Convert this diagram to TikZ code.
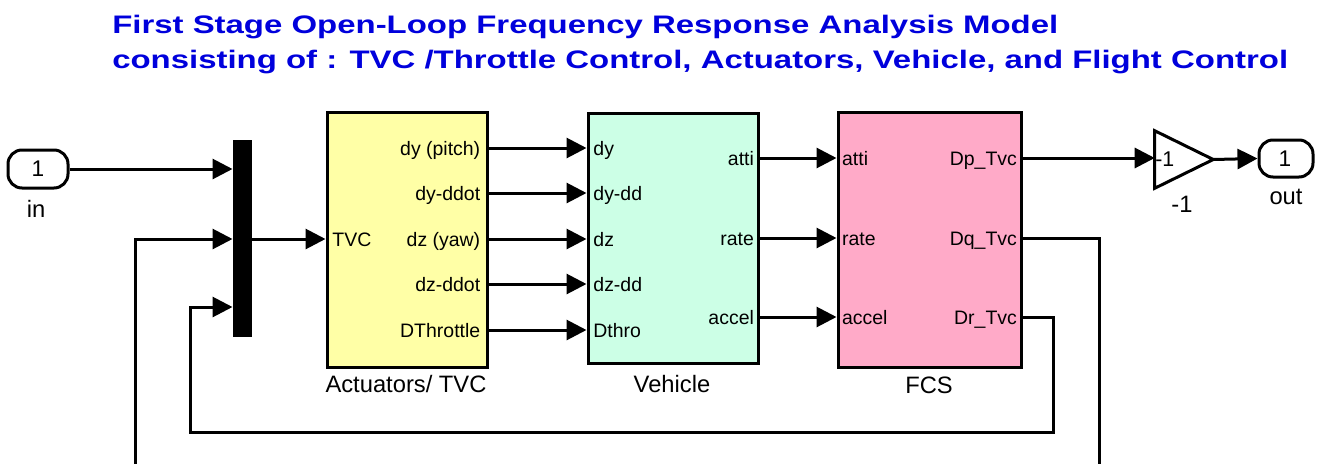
\documentclass[tikz,border=0pt]{standalone}
\usepackage{fontspec}
\setmainfont{Liberation Sans}
\usetikzlibrary{arrows.meta,calc}
\definecolor{titleblue}{RGB}{0,0,220}
\definecolor{actyellow}{RGB}{255,255,166}
\definecolor{vehmint}{RGB}{204,255,230}
\definecolor{fcspink}{RGB}{255,170,200}
\begin{document}
\begin{tikzpicture}[x=0.75pt,y=-0.75pt,
  wire/.style={line width=2.25pt},
  sig/.style={wire,-{Triangle[length=15pt,width=15pt]}},
  block/.style={draw,line width=2.25pt,inner sep=0pt},
  plab/.style={font=\fontsize{14.6}{16}\selectfont,inner sep=0pt,text height=13pt,text depth=2.5pt},
  blab/.style={font=\fontsize{17.8}{20}\selectfont,inner sep=0pt},
  ttl/.style={font=\fontsize{19}{22}\selectfont\bfseries,text=titleblue,inner sep=0pt},
  dig/.style={font=\fontsize{17}{20}\selectfont,inner sep=0pt}]
\useasboundingbox (0,0) rectangle (1322,464);
\clip (0,0) rectangle (1322,464);

% title
\node[ttl,anchor=base west] (t1) at (112,33) {\scalebox{1.3}[1]{First Stage Open-Loop Frequency Response Analysis Model}};
\node[ttl,anchor=base west] (t2) at (112,68) {\scalebox{1.3}[1]{consisting of : TVC /Throttle Control, Actuators, Vehicle, and Flight Control}};

% port levels
\coordinate (yin) at (0,169);
\coordinate (ytvc) at (0,239);
\coordinate (ymux3) at (0,307);
\coordinate (p1) at (0,148);
\coordinate (p2) at (0,193);
\coordinate (p3) at (0,239);
\coordinate (p4) at (0,284);
\coordinate (p5) at (0,330);
\coordinate (q1) at (0,158);
\coordinate (q2) at (0,238);
\coordinate (q3) at (0,317);

% blocks
\node[block,rounded corners=10.5pt,minimum width=45pt,minimum height=28.5pt] (in) at (38,169) {};
\node[dig] (in1) at (38,169) {1};
\node[blab,anchor=base] (inl) at (36,217) {in};

\node[block,fill=black,minimum width=12pt,minimum height=145.5pt] (mux) at (242,238) {};

\node[block,fill=actyellow,minimum width=120pt,minimum height=191.25pt] (act) at (407,239.5) {};
\node[blab,anchor=base] (actl) at (406,392) {Actuators/ TVC};
\node[block,fill=vehmint,minimum width=127.5pt,minimum height=187.5pt] (veh) at (673,238) {};
\node[blab,anchor=base] (vehl) at (672,392) {Vehicle};
\node[block,fill=fcspink,minimum width=137.25pt,minimum height=191.25pt] (fcs) at (929.5,239.5) {};
\node[blab,anchor=base] (fcsl) at (929,393) {FCS};

\node[inner sep=0pt,minimum width=43.5pt,minimum height=42.75pt] (gain) at (1184,159.5) {};
\draw[line width=2.25pt,line join=miter] (gain.north west) -- (gain.east) -- (gain.south west) -- cycle;
\node[dig,anchor=west,font=\fontsize{16}{18}\selectfont] (gin) at (1155,159.5) {-1};
\node[blab,anchor=base] (gl) at (1182,212) {-1};

\node[block,rounded corners=10.5pt,minimum width=40.5pt,minimum height=27.75pt] (out) at (1286,158.5) {};
\node[dig] (out1) at (1285,159) {1};
\node[blab,anchor=base] (outl) at (1286,204) {out};

% port labels: actuators
\node[plab,anchor=west] at ([xshift=5pt]act.west |- ytvc) {TVC};
\node[plab,anchor=east] at ([xshift=-6pt]act.east |- p1) {dy (pitch)};
\node[plab,anchor=east] at ([xshift=-6pt]act.east |- p2) {dy-ddot};
\node[plab,anchor=east] at ([xshift=-6pt]act.east |- p3) {dz (yaw)};
\node[plab,anchor=east] at ([xshift=-6pt]act.east |- p4) {dz-ddot};
\node[plab,anchor=east] at ([xshift=-6pt]act.east |- p5) {DThrottle};
% vehicle
\node[plab,anchor=west] at ([xshift=5pt]veh.west |- p1) {dy};
\node[plab,anchor=west] at ([xshift=5pt]veh.west |- p2) {dy-dd};
\node[plab,anchor=west] at ([xshift=5pt]veh.west |- p3) {dz};
\node[plab,anchor=west] at ([xshift=5pt]veh.west |- p4) {dz-dd};
\node[plab,anchor=west] at ([xshift=5pt]veh.west |- p5) {Dthro};
\node[plab,anchor=east] at ([xshift=-4pt]veh.east |- q1) {atti};
\node[plab,anchor=east] at ([xshift=-4pt]veh.east |- q2) {rate};
\node[plab,anchor=east] at ([xshift=-4pt]veh.east |- q3) {accel};
% fcs
\node[plab,anchor=west] at ([xshift=4pt]fcs.west |- q1) {atti};
\node[plab,anchor=west] at ([xshift=4pt]fcs.west |- q2) {rate};
\node[plab,anchor=west] at ([xshift=4pt]fcs.west |- q3) {accel};
\node[plab,anchor=east] at ([xshift=-4pt]fcs.east |- q1) {Dp\_Tvc};
\node[plab,anchor=east] at ([xshift=-4pt]fcs.east |- q2) {Dq\_Tvc};
\node[plab,anchor=east] at ([xshift=-4pt]fcs.east |- q3) {Dr\_Tvc};

% connectors
\draw[sig] (in.east) -- (mux.west |- yin);
\draw[sig] (mux.east |- ytvc) -- (act.west |- ytvc);
\foreach \p in {p1,p2,p3,p4,p5}
  \draw[sig] (act.east |- \p) -- (veh.west |- \p);
\foreach \q in {q1,q2,q3}
  \draw[sig] (veh.east |- \q) -- (fcs.west |- \q);
\draw[sig] (fcs.east |- q1) -- (gain.west |- q1);
\draw[sig] (gain.east) -- (out.west);

\coordinate (dq1) at (1099,238);
\coordinate (dq2) at (1099,490);
\coordinate (dq3) at (135,490);
\coordinate (dq4) at (135,239);
\draw[sig,line join=miter] (fcs.east |- q2) -- (dq1) -- (dq2) -- (dq3) -- (dq4) -- (mux.west |- ytvc);

\coordinate (dr1) at (1053,317);
\coordinate (dr2) at (1053,432);
\coordinate (dr3) at (190,432);
\coordinate (dr4) at (190,307);
\draw[sig,line join=miter] (fcs.east |- q3) -- (dr1) -- (dr2) -- (dr3) -- (dr4) -- (mux.west |- ymux3);
\end{tikzpicture}
\end{document}
